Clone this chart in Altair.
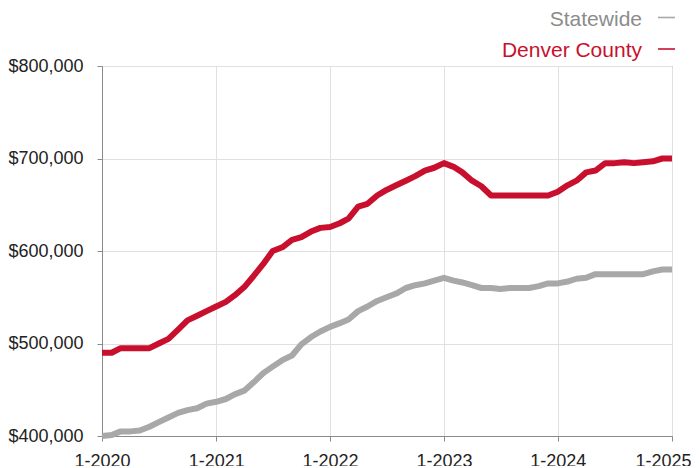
import altair as alt
import pandas as pd

# ---- data ----
months = pd.date_range("2020-01-01", "2025-01-01", freq="MS").strftime("%Y-%m-%dT00:00:00").tolist()

denver = [490, 490, 495, 495, 495, 495, 500, 505, 515, 525, 530, 535,
          540, 545, 552, 561, 573, 586, 600, 604, 612, 615, 621, 625,
          626, 630, 635, 648, 651, 660, 666, 671, 676, 681, 687, 690,
          695, 691, 685, 676, 670, 660, 660, 660, 660, 660, 660, 660,
          664, 671, 676, 685, 687, 695, 695, 696, 695, 696, 697, 700,
          700]
statewide = [400, 401, 405, 405, 406, 410, 415, 420, 425, 428, 430, 435,
             437, 440, 445, 449, 458, 468, 475, 482, 487, 499, 507, 513,
             518, 522, 526, 535, 540, 546, 550, 554, 560, 563, 565, 568,
             571, 568, 566, 563, 560, 560, 559, 560, 560, 560, 562, 565,
             565, 567, 570, 571, 575, 575, 575, 575, 575, 575, 578, 580,
             580]

series_names = ["Statewide", "Denver County"]
series_colors = ["#a8a8a8", "#c8102e"]
legend_text_colors = ["#8c8c8c", "#c8102e"]

y_ticks = [400000, 500000, 600000, 700000, 800000]
x_tick_years = [2020, 2021, 2022, 2023, 2024, 2025]

rows = []
for name, vals in zip(series_names, [statewide, denver]):
    for d, v in zip(months, vals):
        rows.append({"date": d, "value": v * 1000, "series": name})
df = pd.DataFrame(rows)

W, H = 570, 370

x_enc = alt.X(
    "date:T",
    scale=alt.Scale(domain=[alt.DateTime(year=2020, month=1, date=1),
                            alt.DateTime(year=2025, month=1, date=1)], nice=False),
    axis=alt.Axis(
        values=[alt.DateTime(year=y, month=1, date=1) for y in x_tick_years],
        format="%-m-%Y", title=None, labelFontSize=18, labelColor="#222222",
        labelPadding=11, tickSize=5, tickColor="#8a8a8a", domainColor="#8a8a8a",
        gridColor="#e0e0e0", labelFlush=False, labelOverlap=False,
        labelOffset={"condition": {"test": "year(datum.value) == 2025", "value": -9}, "value": 0},
    ),
)
y_enc = alt.Y(
    "value:Q",
    scale=alt.Scale(domain=[400000, 800000], nice=False, zero=False),
    axis=alt.Axis(
        values=y_ticks, format="$,.0f", title=None, labelFontSize=18,
        labelColor="#222222", labelPadding=14, tickSize=5, tickColor="#8a8a8a",
        domainColor="#8a8a8a", gridColor="#e0e0e0",
    ),
)

lines = alt.Chart(df).mark_line(strokeWidth=6, strokeJoin="round").encode(
    x=x_enc,
    y=y_enc,
    color=alt.Color("series:N", scale=alt.Scale(domain=series_names, range=series_colors), legend=None),
    detail="series:N",
)

# manual legend (label then dash, right-aligned above the plot)
legend_layers = []
label_baselines = [-40, -9.5]
dash_ys = [-48.5, -17]
for name, tc, lc, by, dy in zip(series_names, legend_text_colors, series_colors, label_baselines, dash_ys):
    legend_layers.append(
        alt.Chart(pd.DataFrame({"t": [name]})).mark_text(
            align="right", baseline="alphabetic", fontSize=21, color=tc
        ).encode(text="t:N", x=alt.value(540), y=alt.value(by))
    )
    legend_layers.append(
        alt.Chart(pd.DataFrame({"t": [name]})).mark_rule(strokeWidth=1.6, color=lc).encode(
            x=alt.value(556), x2=alt.value(573), y=alt.value(dy)
        )
    )

chart = alt.layer(lines, *legend_layers).properties(
    width=W, height=H,
    autosize=alt.AutoSizeParams(type="none"),
    padding={"left": 94, "top": 58, "right": 19, "bottom": 30},
).configure(font="Liberation Sans").configure_view(
    stroke="#9a9a9a", strokeWidth=1
)

chart.save("out.html", embed_options={"renderer": "svg", "actions": False})
